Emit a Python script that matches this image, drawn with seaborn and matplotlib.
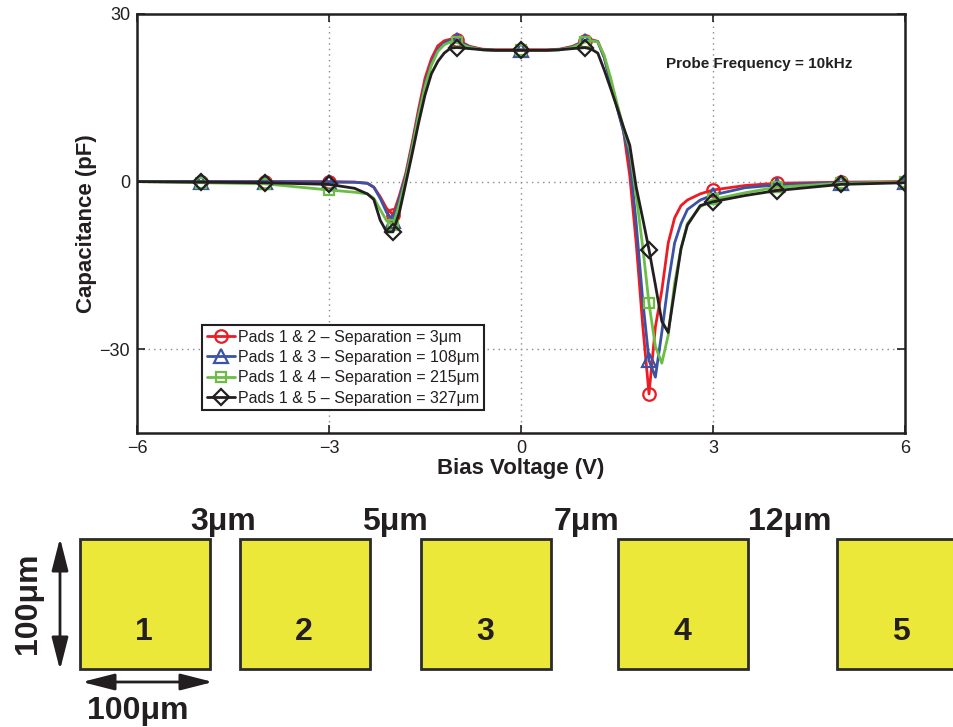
import numpy as np
import pandas as pd
import seaborn as sns
import matplotlib
matplotlib.use("Agg")
import matplotlib.pyplot as plt
from matplotlib.patches import Rectangle

# ---------------- data ----------------
bias_v = [-6, -5, -4, -3, -2.6, -2.4, -2.3, -2.2, -2.1, -2.0, -1.9, -1.8, -1.7, -1.6,
          -1.5, -1.4, -1.3, -1.2, -1.1, -1.0, -0.8, -0.6, -0.4, 0, 0.4, 0.6, 0.8, 1.0,
          1.1, 1.2, 1.3, 1.4, 1.5, 1.6, 1.7, 1.8, 1.9, 2.0, 2.1, 2.2, 2.3, 2.4, 2.5,
          2.6, 2.8, 3.0, 3.5, 4, 5, 6]

cap_pads12 = [0, 0, 0, 0, -0.1, -0.3, -1.0, -2.7, -4.8, -5.9, -2.5, 1.5, 7.0, 13.0,
              18.5, 22.0, 24.3, 25.2, 25.5, 25.4, 24.2, 23.7, 23.6, 23.6, 23.6, 23.7, 24.2, 25.2,
              25.4, 25.1, 22.3, 17.8, 13.5, 9.2, 1.0, -11.0, -25.5, -38.0, -26.0, -19.5, -11.0, -6.5, -4.3,
              -3.3, -2.2, -1.5, -0.7, -0.3, -0.1, 0]
cap_pads13 = [0, 0, 0, -0.1, -0.1, -0.3, -1.0, -3.0, -5.5, -7.0, -3.0, 1.0, 6.5, 12.2,
              17.5, 21.2, 23.6, 24.8, 25.3, 25.3, 24.1, 23.6, 23.5, 23.5, 23.5, 23.6, 24.1, 25.2,
              25.3, 25.0, 22.2, 17.8, 13.3, 9.0, 4.0, -7.5, -21.0, -32.0, -35.0, -27.0, -18.2, -11.0, -7.5,
              -5.0, -3.3, -2.4, -1.1, -0.6, -0.2, -0.1]
cap_pads14 = [0, -0.2, -0.4, -1.5, -1.9, -2.2, -3.0, -5.0, -7.0, -7.8, -4.0, 0.5, 6.0, 11.8,
              17.0, 20.8, 23.3, 24.5, 25.0, 24.9, 24.0, 23.6, 23.5, 23.5, 23.5, 23.6, 24.0, 25.0,
              25.2, 25.0, 22.6, 18.6, 14.0, 9.7, 5.7, -2.5, -11.5, -21.8, -29.5, -32.5, -27.5, -18.2, -12.0,
              -7.5, -4.5, -3.2, -2.0, -1.0, -0.3, -0.1]
cap_pads15 = [0, -0.1, -0.2, -0.5, -1.2, -2.2, -3.2, -6.9, -9.0, -9.0, -5.5, -0.3, 5.0, 10.5,
              15.5, 19.3, 21.5, 23.0, 23.9, 24.0, 23.8, 23.6, 23.5, 23.5, 23.5, 23.6, 23.8, 24.0,
              23.7, 23.0, 20.0, 16.7, 13.3, 9.8, 6.5, -1.0, -6.5, -12.2, -18.5, -25.0, -27.0, -19.5, -12.0,
              -7.8, -4.3, -3.6, -2.5, -1.6, -0.5, -0.2]

series_labels = ["Pads 1 & 2 \u2013 Separation = 3\u03bcm",
                 "Pads 1 & 3 \u2013 Separation = 108\u03bcm",
                 "Pads 1 & 4 \u2013 Separation = 215\u03bcm",
                 "Pads 1 & 5 \u2013 Separation = 327\u03bcm"]
series_values = [cap_pads12, cap_pads13, cap_pads14, cap_pads15]
marker_bias = [-5, -4, -3, -2, -1, 0, 1, 2, 3, 4, 5, 6]

x_ticks = [-6, -3, 0, 3, 6]
y_ticks = [-30, 0, 30]
x_tick_labels = ["\u22126", "\u22123", "0", "3", "6"]
y_tick_labels = ["\u221230", "0", "30"]

pad_labels = ["1", "2", "3", "4", "5"]
gap_labels = ["3\u03bcm", "5\u03bcm", "7\u03bcm", "12\u03bcm"]

# ---------------- style ----------------
colors = ["#ED1C24", "#3A53A4", "#6BBD45", "#231F20"]
markers = ["o", "^", "s", "D"]
msizes = [9, 10, 7.5, 8]
txt = "#231F20"

sns.set_theme(style="white")
plt.rcParams["font.family"] = ["Liberation Sans", "DejaVu Sans"]
plt.rcParams["text.color"] = txt
plt.rcParams["axes.labelcolor"] = txt
plt.rcParams["xtick.color"] = txt
plt.rcParams["ytick.color"] = txt

fig = plt.figure(figsize=(9.54, 7.27), dpi=100)
ax = fig.add_axes([137 / 954, 1 - 433 / 727, 768 / 954, 419 / 727])

mark_idx = [bias_v.index(v) for v in marker_bias]
for lab, vals, col, mk, ms in zip(series_labels, series_values, colors, markers, msizes):
    df = pd.DataFrame({"bias": bias_v, "cap": vals})
    sns.lineplot(data=df, x="bias", y="cap", ax=ax, color=col, lw=2.0, sort=False,
                 marker=mk, markevery=mark_idx, markersize=ms,
                 markerfacecolor="none", markeredgecolor=col, markeredgewidth=1.6,
                 label=lab)

ax.set_xlim(-6, 6)
ax.set_ylim(-45, 30)
ax.set_xticks(x_ticks)
ax.set_xticklabels(x_tick_labels)
ax.set_yticks(y_ticks)
ax.set_yticklabels(y_tick_labels)
ax.tick_params(axis="both", which="both", direction="in", length=6, width=1.2,
               labelsize=13, top=True, right=True, bottom=True, left=True, pad=5)
ax.grid(True, linestyle=(0, (1, 3)), color="#8a8a8a", lw=1.0)
for sp in ax.spines.values():
    sp.set_visible(True)
    sp.set_color(txt)
    sp.set_linewidth(1.8)

ax.set_xlabel("Bias Voltage (V)", fontsize=16, fontweight="bold", labelpad=1)
ax.set_ylabel("Capacitance (pF)", fontsize=16, fontweight="bold", labelpad=2)

ax.text(0.81, 0.88, "Probe Frequency = 10kHz", transform=ax.transAxes,
        fontsize=11, fontweight="bold", ha="center", va="center", color=txt)

leg = ax.legend(loc="upper left", bbox_to_anchor=(0.0846, 0.258), borderaxespad=0,
                fontsize=11.5, frameon=True, fancybox=False, framealpha=1,
                edgecolor=txt, handlelength=1.75, handletextpad=0.2, labelspacing=0.33,
                borderpad=0.3, numpoints=1)
leg.get_frame().set_linewidth(1.5)

# ---------------- pad diagram ----------------
dax = fig.add_axes([0, 0, 1, 1])
dax.set_xlim(0, 954)
dax.set_ylim(727, 0)
dax.axis("off")
dax.patch.set_alpha(0)

pad_left = [80, 240, 421, 618, 837]
pad_top, pad_size = 539, 130
for lab, x0 in zip(pad_labels, pad_left):
    dax.add_patch(Rectangle((x0, pad_top), pad_size, pad_size, facecolor="#ECE83A",
                            edgecolor="#2B2B2B", lw=2.0))
    dax.text(x0 + 64, 632, lab, fontsize=23, fontweight="bold", ha="center", va="center", color=txt)

gap_x = [223, 395, 587, 790]
for lab, gx in zip(gap_labels, gap_x):
    dax.text(gx, 530, lab, fontsize=23, fontweight="bold", ha="center", va="baseline", color=txt)

arrow_kw = dict(arrowstyle="<|-|>,head_length=1.1,head_width=0.28", color=txt, lw=2,
                mutation_scale=18, shrinkA=0, shrinkB=0)
dax.annotate("", xy=(60, 538), xytext=(60, 670), arrowprops=arrow_kw)
dax.annotate("", xy=(82, 682), xytext=(213, 682), arrowprops=arrow_kw)
dax.text(28, 603, "100\u03bcm", rotation=90, fontsize=23, fontweight="bold",
         ha="center", va="center", color=txt)
dax.text(138, 719, "100\u03bcm", fontsize=23, fontweight="bold",
         ha="center", va="baseline", color=txt)

fig.savefig("out.png", dpi=100)
